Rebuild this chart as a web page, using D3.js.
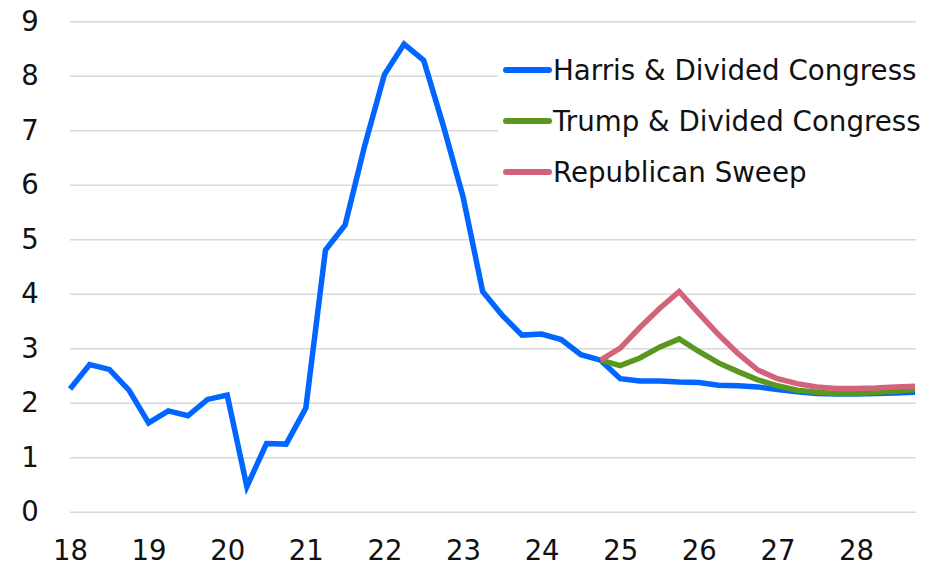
<!DOCTYPE html>
<html>
<head>
<meta charset="utf-8">
<script src="https://cdn.jsdelivr.net/npm/d3@7"></script>
<style>
  html, body { margin: 0; padding: 0; background: #fff; }
  svg { display: block; }
  text { font-family: "DejaVu Sans", sans-serif; fill: #111; }
</style>
</head>
<body>
<svg id="chart" width="933" height="567"></svg>
<script>
// ---- data (quarterly, 2018Q1 .. 2028Q4) ----
const startYear = 2018;
const yearTicks = [2018, 2019, 2020, 2021, 2022, 2023, 2024, 2025, 2026, 2027, 2028];
const yearTickLabels = ["18", "19", "20", "21", "22", "23", "24", "25", "26", "27", "28"];
const yTicks = [0, 1, 2, 3, 4, 5, 6, 7, 8, 9];

const seriesNames = ["Harris & Divided Congress", "Trump & Divided Congress", "Republican Sweep"];

// Harris & Divided Congress: full history + forecast (2018Q1..2028Q4)
const harris = [
  2.25, 2.70, 2.61, 2.23,
  1.63, 1.85, 1.76, 2.06,
  2.14, 0.46, 1.25, 1.24,
  1.90, 4.80, 5.26, 6.72,
  8.02, 8.58, 8.28, 7.08,
  5.78, 4.04, 3.60, 3.24,
  3.26, 3.16, 2.88, 2.78,
  2.44, 2.40, 2.40, 2.38,
  2.37, 2.32, 2.31, 2.29,
  2.24, 2.20, 2.17, 2.16,
  2.16, 2.17, 2.18, 2.19
];
// Forecast scenarios start at 2024Q4 (index 27)
const scenarioStartIndex = 27;
const trump = [2.78, 2.68, 2.82, 3.02, 3.17, 2.94, 2.73, 2.57, 2.42, 2.31, 2.23, 2.19, 2.17, 2.17, 2.19, 2.21, 2.24];
const sweep = [2.78, 3.00, 3.38, 3.73, 4.04, 3.64, 3.25, 2.90, 2.60, 2.44, 2.35, 2.29, 2.26, 2.26, 2.27, 2.29, 2.30];

const colors = ["#0066ff", "#5a971f", "#d3637b"];

// ---- layout ----
const svg = d3.select("#chart");
const x = d3.scaleLinear().domain([startYear, startYear + 43 / 4]).range([70, 915]);
const y = d3.scaleLinear().domain([0, 9]).range([511.7, 21.2]);

const toPts = (arr, offset) => arr.map((v, i) => ({ t: startYear + (i + offset) / 4, v }));
const data = [toPts(harris, 0), toPts(trump, scenarioStartIndex), toPts(sweep, scenarioStartIndex)];

// gridlines
const grid = svg.append("g").attr("transform", `translate(${x.range()[0]},0)`)
  .call(d3.axisLeft(y).tickValues(yTicks).tickSize(-(916 - 70)).tickFormat(""));
grid.select(".domain").remove();
grid.selectAll("line").attr("stroke", "#d9d9d9").attr("stroke-width", 1.5);

// y labels
const ya = svg.append("g").attr("transform", "translate(39,0)")
  .call(d3.axisLeft(y).tickValues(yTicks).tickSize(0).tickPadding(0).tickFormat(d3.format("d")));
ya.select(".domain").remove();
ya.selectAll("text").attr("text-anchor", "middle").attr("x", -9)
  .style("font-size", "27.5px").style("font-family", "DejaVu Sans, sans-serif").attr("fill", "#111");

// x labels
const xa = svg.append("g").attr("transform", "translate(0,540)")
  .call(d3.axisBottom(x).tickValues(yearTicks).tickSize(0).tickPadding(0)
    .tickFormat((d, i) => yearTickLabels[i]));
xa.select(".domain").remove();
xa.selectAll("text").attr("dy", "0.72em")
  .style("font-size", "27.5px").style("font-family", "DejaVu Sans, sans-serif").attr("fill", "#111");

// legend background (hides gridlines behind legend)
svg.append("rect").attr("x", 498).attr("y", 40).attr("width", 435).attr("height", 160).attr("fill", "#fff");

// lines
const line = d3.line().x(d => x(d.t)).y(d => y(d.v));
svg.append("g").selectAll("path").data(data).join("path")
  .attr("d", line)
  .attr("fill", "none")
  .attr("stroke", (d, i) => colors[i])
  .attr("stroke-width", 5.5)
  .attr("stroke-linejoin", "miter")
  .attr("stroke-linecap", "butt");

// legend
const legendY = [70, 121, 172];
const lg = svg.append("g");
seriesNames.forEach((name, i) => {
  lg.append("line").attr("x1", 506).attr("x2", 549)
    .attr("y1", legendY[i]).attr("y2", legendY[i])
    .attr("stroke", colors[i]).attr("stroke-width", 6).attr("stroke-linecap", "round");
  lg.append("text").attr("x", 553).attr("y", legendY[i]).attr("dy", "0.36em")
    .style("font-size", "27.7px").text(name);
});
</script>
</body>
</html>
